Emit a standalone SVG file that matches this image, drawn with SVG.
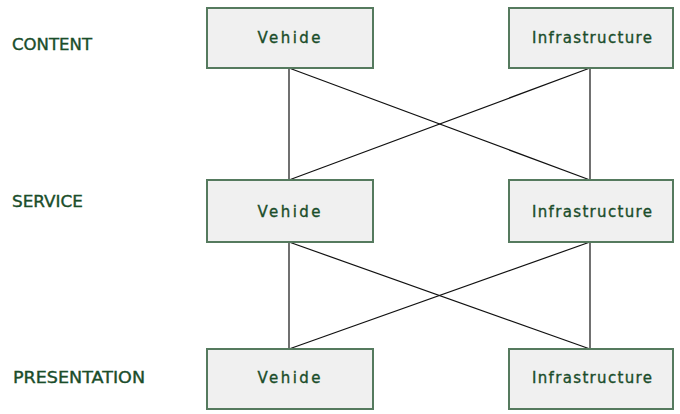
<svg xmlns="http://www.w3.org/2000/svg" width="680" height="414" viewBox="0 0 680 414">
  <style>
    .box { fill: #f0f0f0; stroke: #557a5e; stroke-width: 2; }
    .txt { font-family: "DejaVu Sans", "Liberation Sans", sans-serif; font-size: 15px; fill: #1a4d2a; stroke: #1a4d2a; stroke-width: 0.35; text-anchor: middle; }
    .lay { font-family: "DejaVu Sans", "Liberation Sans", sans-serif; font-size: 15px; fill: #1a4d2a; stroke: #1a4d2a; stroke-width: 0.35; }
    .edge { stroke: #111; stroke-width: 1.2; fill: none; }
  </style>

  <!-- layer labels -->
  <g id="layers">
    <text class="lay" x="12" y="50" textLength="80" lengthAdjust="spacingAndGlyphs">CONTENT</text>
    <text class="lay" x="12" y="207" textLength="71" lengthAdjust="spacingAndGlyphs">SERVICE</text>
    <text class="lay" x="13" y="383" textLength="132" lengthAdjust="spacingAndGlyphs">PRESENTATION</text>
  </g>

  <!-- connectors -->
  <g id="connectors">
    <line class="edge" x1="289" y1="68" x2="289" y2="180"/>
    <line class="edge" x1="590" y1="68" x2="590" y2="180"/>
    <line class="edge" x1="289" y1="68" x2="590" y2="180"/>
    <line class="edge" x1="590" y1="68" x2="289" y2="180"/>
    <line class="edge" x1="289" y1="242" x2="289" y2="349"/>
    <line class="edge" x1="590" y1="242" x2="590" y2="349"/>
    <line class="edge" x1="289" y1="242" x2="590" y2="349"/>
    <line class="edge" x1="590" y1="242" x2="289" y2="349"/>
  </g>

  <g id="content-vehicle">
    <rect class="box" x="207" y="8" width="166" height="60"/>
    <text class="txt" x="289" y="43" textLength="63">Vehide</text>
  </g>
  <g id="content-infrastructure">
    <rect class="box" x="509" y="8" width="164" height="60"/>
    <text class="txt" x="592" y="43" textLength="120">Infrastructure</text>
  </g>

  <g id="service-vehicle">
    <rect class="box" x="207" y="180" width="166" height="62"/>
    <text class="txt" x="289" y="217" textLength="63">Vehide</text>
  </g>
  <g id="service-infrastructure">
    <rect class="box" x="509" y="180" width="164" height="62"/>
    <text class="txt" x="592" y="217" textLength="120">Infrastructure</text>
  </g>

  <g id="presentation-vehicle">
    <rect class="box" x="207" y="349" width="166" height="60"/>
    <text class="txt" x="289" y="383" textLength="63">Vehide</text>
  </g>
  <g id="presentation-infrastructure">
    <rect class="box" x="509" y="349" width="164" height="60"/>
    <text class="txt" x="592" y="383" textLength="120">Infrastructure</text>
  </g>
</svg>
